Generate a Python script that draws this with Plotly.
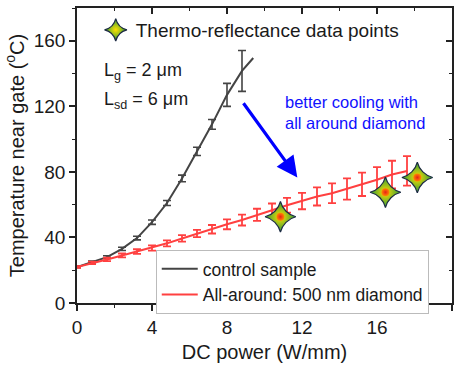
import plotly.graph_objects as go

# ---- data ----
red_x = [0, 0.8, 1.6, 2.4, 3.2, 4.0, 4.8, 5.6, 6.4, 7.2, 8.0, 8.8, 9.6, 10.4, 11.2,
         12.0, 12.8, 13.6, 14.4, 15.2, 16.0, 16.8, 17.6]
red_y = [22, 24.5, 26.6, 29, 31.4, 33.6, 36.4, 39.4, 42.4, 45, 48, 50.6, 53.8, 56.6, 59.6,
         62.2, 65, 67, 69.6, 72.4, 75.2, 78.4, 80.6]
red_err = [0.5, 0.8, 1.0, 1.2, 1.4, 1.6, 1.8, 2.0, 2.2, 2.6, 3.0, 3.3, 3.7, 4.1, 4.5,
           5.0, 5.5, 6.0, 6.5, 7.1, 7.7, 8.4, 9.0]

blk_x = [0, 0.8, 1.6, 2.4, 3.2, 4.0, 4.8, 5.6, 6.4, 7.2, 8.0, 8.8]
blk_y = [22, 25, 28, 33, 39.6, 49.3, 61, 76, 92.5, 109, 127, 141.6]
blk_err = [0.5, 0.6, 0.8, 1.0, 1.1, 1.3, 1.5, 2.0, 2.5, 3.0, 7.0, 12.5]
blk_line_x = blk_x + [9.4]
blk_line_y = blk_y + [149.5]

tr_x = [10.85, 16.45, 18.15]
tr_y = [52.6, 67.6, 76.6]

x_ticks = [0, 4, 8, 12, 16, 20]
y_ticks = [0, 40, 80, 120, 160]

FONT = "Liberation Sans, Arial, sans-serif"
AX = "#222222"
RED = "#ff4040"
BLK = "#444444"

fig = go.Figure()

# black curve: line + error bars
fig.add_trace(go.Scatter(x=blk_line_x, y=blk_line_y, mode="lines",
                         line=dict(color=BLK, width=2), name="control sample",
                         legend="legend"))
fig.add_trace(go.Scatter(x=blk_x, y=blk_y, mode="markers", marker=dict(size=1, color=BLK),
                         error_y=dict(type="data", array=blk_err, color=BLK, thickness=1.6, width=4),
                         showlegend=False, hoverinfo="skip"))

# red curve
fig.add_trace(go.Scatter(x=red_x, y=red_y, mode="lines",
                         line=dict(color=RED, width=2), name="All-around: 500 nm diamond",
                         legend="legend"))
fig.add_trace(go.Scatter(x=red_x, y=red_y, mode="markers", marker=dict(size=1, color=RED),
                         error_y=dict(type="data", array=red_err, color=RED, thickness=1.8, width=4),
                         showlegend=False, hoverinfo="skip"))

# thermo-reflectance stars (layered for gradient look)
fig.add_trace(go.Scatter(x=tr_x, y=tr_y, mode="markers", name="Thermo-reflectance data points",
                         legend="legend2",
                         marker=dict(symbol="star-diamond", size=22, color="#2a9a3a",
                                     gradient=dict(type="radial", color="#ffe000"),
                                     line=dict(color="#1c2a44", width=1.2))))
fig.add_trace(go.Scatter(x=tr_x, y=tr_y, mode="markers", showlegend=False, hoverinfo="skip",
                         marker=dict(symbol="circle", size=8, color="#ff8a00",
                                     gradient=dict(type="radial", color="#e8201a"),
                                     line=dict(width=0))))

axis_common = dict(showline=True, linecolor=AX, linewidth=1.5, showgrid=False, zeroline=False)

fig.update_layout(
    width=461, height=368,
    margin=dict(l=77, r=9, t=8, b=60),
    paper_bgcolor="white", plot_bgcolor="white",
    font=dict(family=FONT, color="#1a1a1a"),
    xaxis=dict(range=[0, 20], tickvals=x_ticks, ticks="outside", ticklen=6, tickwidth=1.5,
               tickcolor=AX, tickfont=dict(size=19),
               minor=dict(dtick=2, ticks="outside", ticklen=3, tickcolor=AX, tickwidth=1.2),
               title=dict(text="DC power (W/mm)", font=dict(size=20), standoff=8),
               **axis_common),
    yaxis=dict(range=[0, 180], tickvals=y_ticks, ticks="outside", ticklen=6, tickwidth=1.5,
               tickcolor=AX, tickfont=dict(size=19),
               minor=dict(dtick=20, ticks="outside", ticklen=3, tickcolor=AX, tickwidth=1.2),
               title=dict(text="Temperature near gate (<sup>o</sup>C)", font=dict(size=20), standoff=4),
               **axis_common),
    xaxis2=dict(range=[0, 20], overlaying="x", side="top", tickvals=x_ticks, ticks="inside",
                ticklen=6, tickwidth=1.5, tickcolor=AX, showticklabels=False,
                minor=dict(dtick=2, ticks="inside", ticklen=3, tickcolor=AX, tickwidth=1.2),
                **axis_common),
    yaxis2=dict(range=[0, 180], overlaying="y", side="right", tickvals=y_ticks, ticks="inside",
                ticklen=6, tickwidth=1.5, tickcolor=AX, showticklabels=False,
                minor=dict(dtick=20, ticks="inside", ticklen=3, tickcolor=AX, tickwidth=1.2),
                **axis_common),
    legend=dict(x=0.21, y=0.18, xanchor="left", yanchor="top", bgcolor="white",
                bordercolor="#bbbbbb", borderwidth=1, font=dict(size=17.5),
                tracegroupgap=0, itemwidth=36),
    legend2=dict(x=0.05, y=0.99, xanchor="left", yanchor="top", bgcolor="rgba(0,0,0,0)",
                 borderwidth=0, font=dict(size=19), itemsizing="trace"),
    showlegend=True,
)

# invisible trace so the top/right axes render
fig.add_trace(go.Scatter(x=[None], y=[None], xaxis="x2", yaxis="y2", showlegend=False,
                         hoverinfo="skip"))

annos = [
    dict(x=1.35, y=141, xref="x", yref="y", text="L<sub>g</sub> = 2 μm", showarrow=False,
         xanchor="left", yanchor="middle", font=dict(size=18)),
    dict(x=1.35, y=123.4, xref="x", yref="y", text="L<sub>sd</sub> = 6 μm", showarrow=False,
         xanchor="left", yanchor="middle", font=dict(size=18)),
    dict(x=11.0, y=116.5, xref="x", yref="y", text="better cooling with<br>all around diamond",
         showarrow=False, xanchor="left", yanchor="middle", align="left",
         font=dict(size=16.5, color="#1010ff")),
    dict(x=11.75, y=76.6, ax=8.82, ay=122.8, xref="x", yref="y", axref="x", ayref="y",
         text="", showarrow=True, arrowhead=2, arrowsize=1.3, arrowwidth=3.2,
         arrowcolor="#0000ff"),
]
fig.update_layout(annotations=annos)

fig.write_html("out.html")
